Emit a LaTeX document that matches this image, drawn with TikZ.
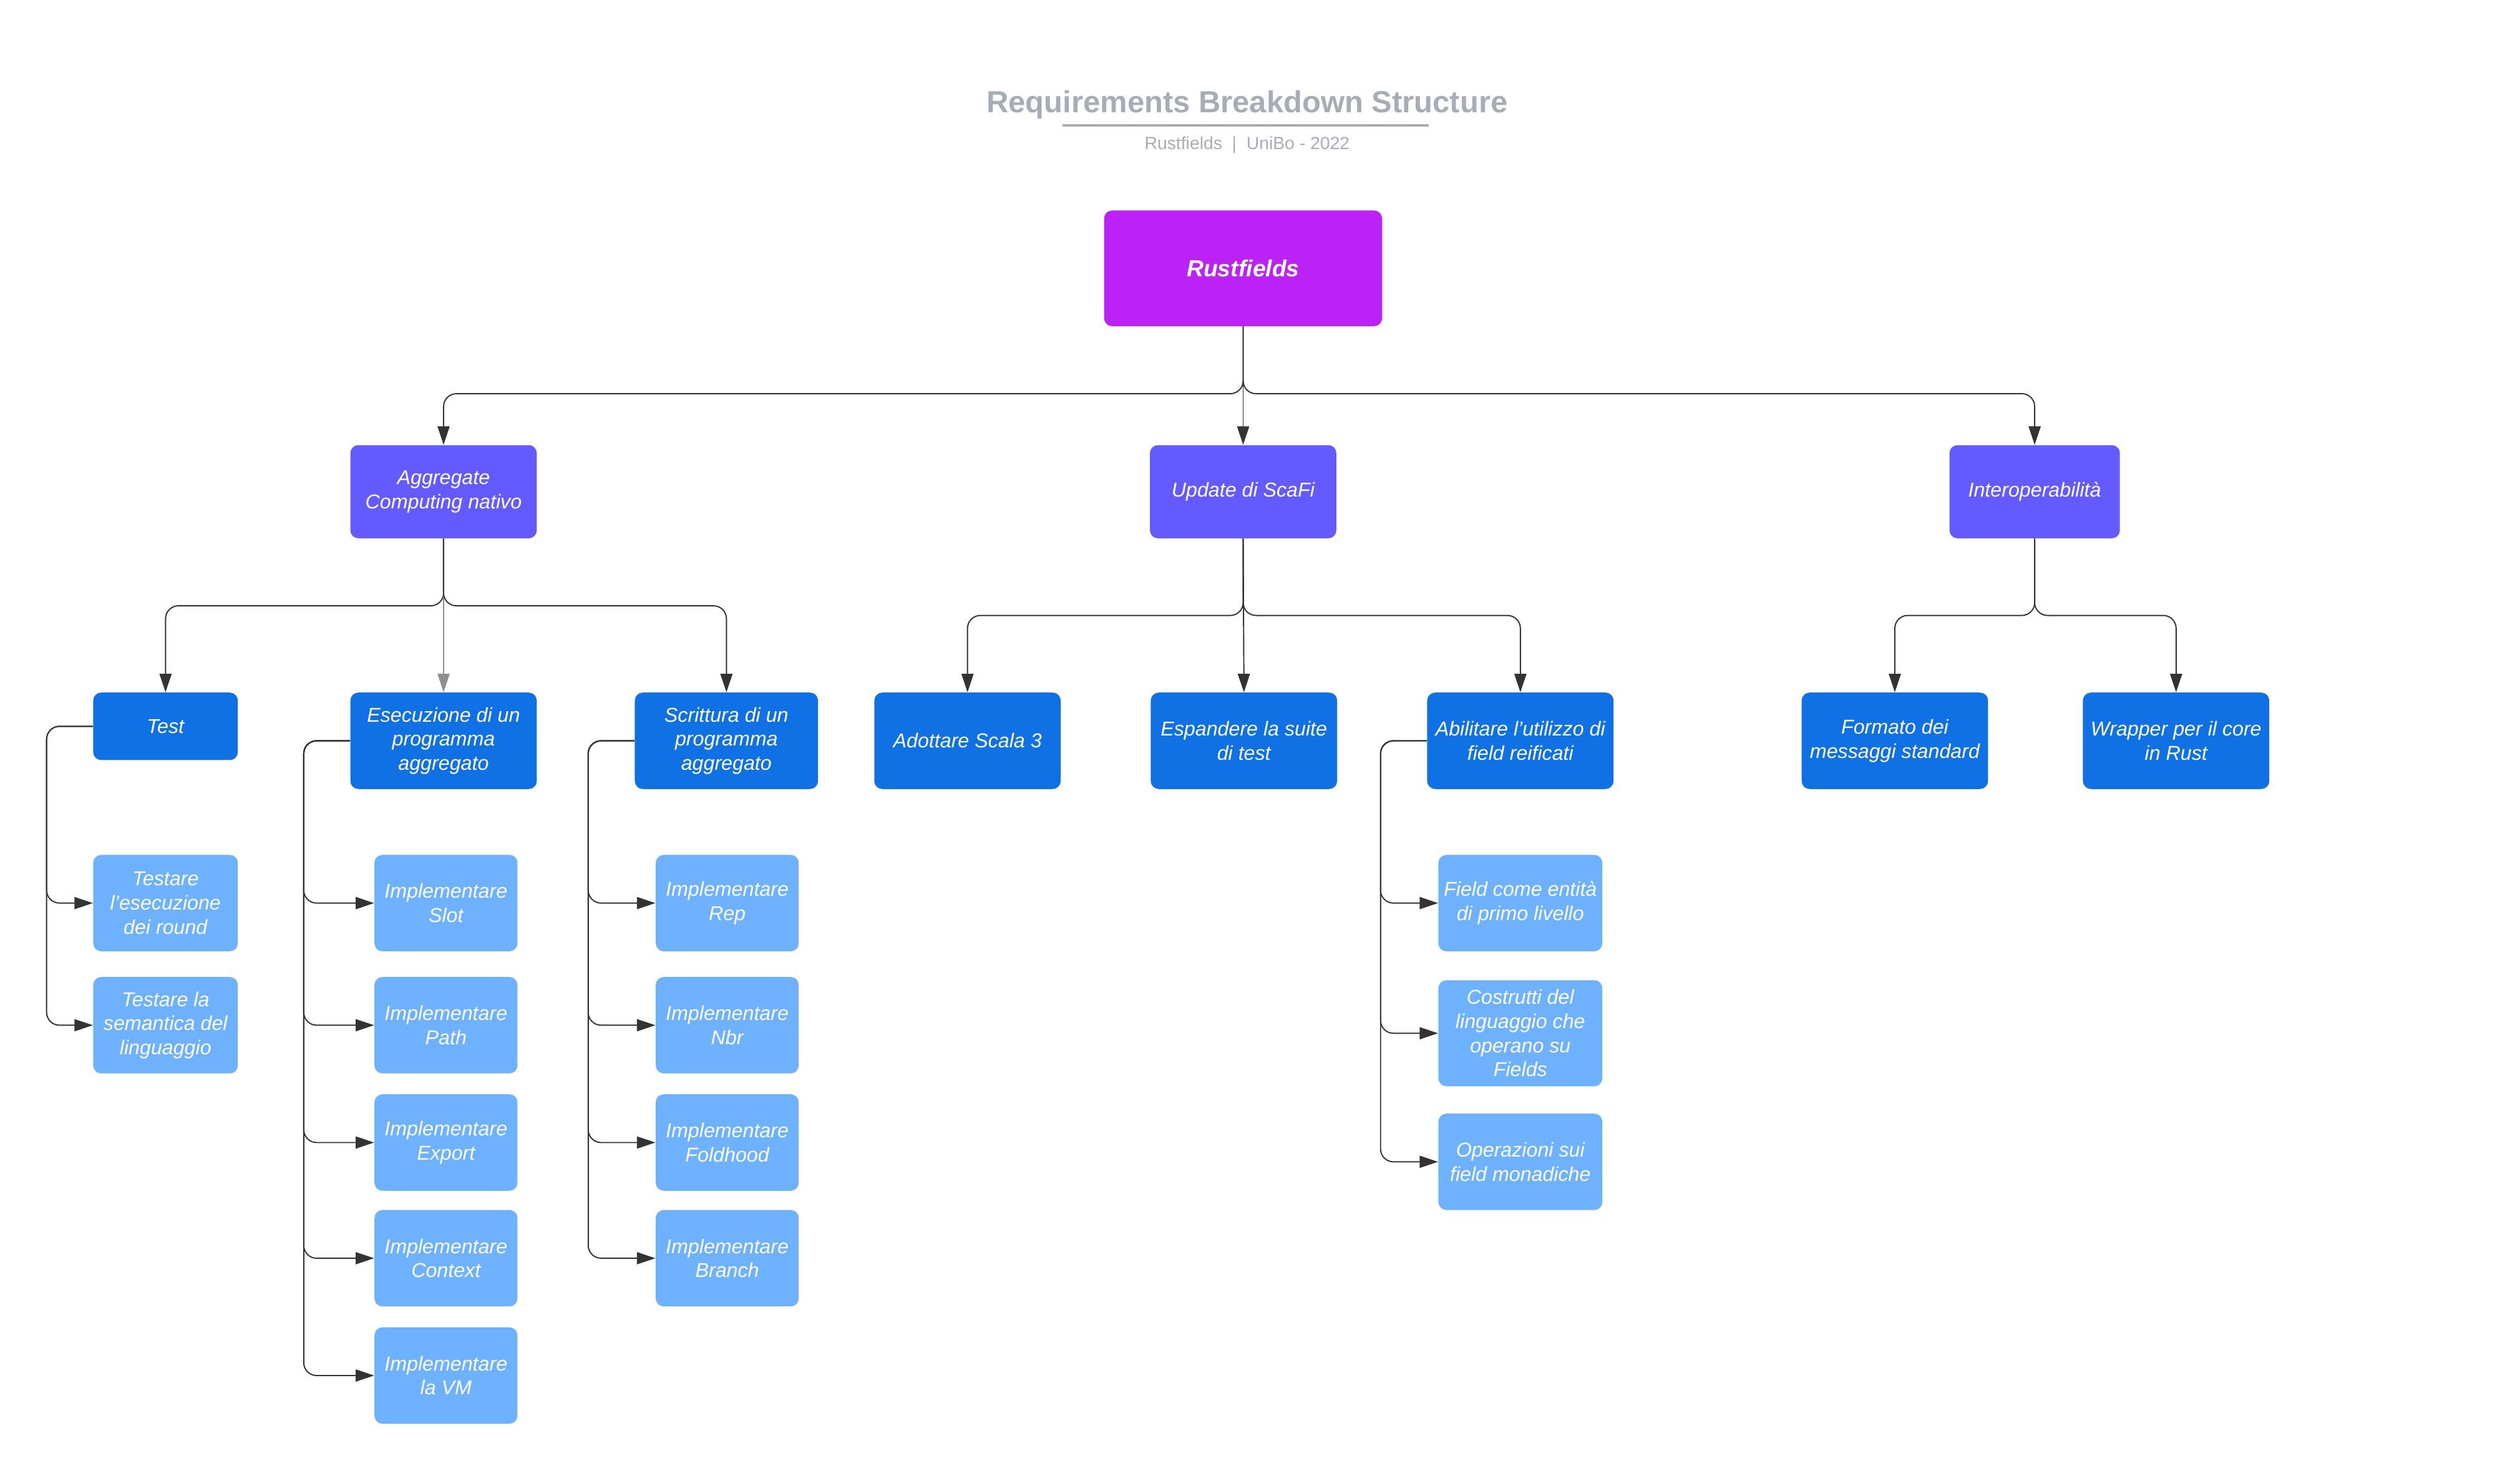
\documentclass[tikz,border=0pt]{standalone}
\usepackage{fontspec}
\setmainfont{Liberation Sans}
\usetikzlibrary{arrows.meta}
\definecolor{rootc}{HTML}{BC22F5}
\definecolor{lonec}{HTML}{635BFF}
\definecolor{ltwoc}{HTML}{1071E5}
\definecolor{lthreec}{HTML}{6DB1FF}
\definecolor{titlec}{HTML}{A7ADB7}
\definecolor{linec}{HTML}{333333}
\begin{document}
\begin{tikzpicture}[x=1pt,y=-1pt,
  box/.style={rectangle, rounded corners=5pt, text=white, align=center, inner sep=0pt,
    font=\fontsize{12.5}{15}\selectfont\itshape},
  rootbox/.style={box, fill=rootc, minimum width=173pt, minimum height=72pt,
    font=\fontsize{14.5}{17}\selectfont\bfseries\itshape},
  lone/.style={box, fill=lonec, minimum width=116pt, minimum height=58pt},
  ltwo/.style={box, fill=ltwoc, minimum width=116pt, minimum height=60pt},
  lthree/.style={box, fill=lthreec, minimum width=89pt, minimum height=60pt},
  lthreew/.style={box, fill=lthreec, minimum width=102pt, minimum height=60pt},
  conn/.style={draw=linec, line width=0.75pt, rounded corners=8pt,
    -{Triangle[length=11.5pt,width=7.5pt]}},
  titletext/.style={text=titlec, inner sep=0pt},
]
\useasboundingbox (0,0) rectangle (1568,912);

% title
\node[titletext, font=\fontsize{19}{22}\selectfont\bfseries] (title) at (776,65) {Requirements Breakdown Structure};
\coordinate (ulA) at (661,78);
\coordinate (ulB) at (889,78);
\draw[titlec, line width=1.3pt] (ulA) -- (ulB);
\node[titletext, font=\fontsize{11}{13}\selectfont] (subtitle) at (776,90) {Rustfields~~|~~UniBo - 2022};

% root
\node[rootbox] (root) at (773.5,167) {Rustfields};

% level 1
\node[lone] (agg) at (276,306) {Aggregate\\Computing nativo};
\node[lone] (upd) at (773.5,306) {Update di ScaFi};
\node[lone, minimum width=106pt] (interop) at (1266,306) {Interoperabilità};

% level 2
\node[ltwo, minimum width=90pt, minimum height=42pt] (test) at (103,452) {Test};
\node[ltwo] (esec) at (276,461) {Esecuzione di un\\programma\\aggregato};
\node[ltwo, minimum width=114pt] (scri) at (452,461) {Scrittura di un\\programma\\aggregato};
\node[ltwo] (scala) at (602,461) {Adottare Scala 3};
\node[ltwo] (suite) at (774,461) {Espandere la suite\\di test};
\node[ltwo] (abil) at (946,461) {Abilitare l'utilizzo di\\field reificati};
\node[ltwo] (formato) at (1179,461) {Formato dei\\messaggi standard};
\node[ltwo] (wrapper) at (1354,461) {Wrapper per il core\\in Rust};

% level 3 - Test
\node[lthree, minimum width=90pt] (tone) at (103,562) {Testare\\l'esecuzione\\dei round};
\node[lthree, minimum width=90pt] (ttwo) at (103,638) {Testare la\\semantica del\\linguaggio};

% level 3 - Esecuzione
\node[lthree] (slot) at (277.5,562) {Implementare\\Slot};
\node[lthree] (path) at (277.5,638) {Implementare\\Path};
\node[lthree] (export) at (277.5,711) {Implementare\\Export};
\node[lthree] (context) at (277.5,783) {Implementare\\Context};
\node[lthree] (vm) at (277.5,856) {Implementare\\la VM};

% level 3 - Scrittura
\node[lthree] (rep) at (452.5,562) {Implementare\\Rep};
\node[lthree] (nbr) at (452.5,638) {Implementare\\Nbr};
\node[lthree] (fold) at (452.5,711) {Implementare\\Foldhood};
\node[lthree] (branch) at (452.5,783) {Implementare\\Branch};

% level 3 - Abilitare
\node[lthreew] (fone) at (946,562) {Field come entità\\di primo livello};
\node[lthreew, minimum height=66pt] (ftwo) at (946,643) {Costrutti del\\linguaggio che\\operano su\\Fields};
\node[lthreew] (fthree) at (946,723) {Operazioni sui\\field monadiche};

% bus coordinates
\coordinate (bzero) at (0,245);
\coordinate (bagg) at (0,377);
\coordinate (bupd) at (0,383);
\coordinate (xtest) at (29,0);
\coordinate (xesec) at (189,0);
\coordinate (xscri) at (366,0);
\coordinate (xabil) at (859,0);

% root -> level 1
\draw[conn] (root.south) -- (root.south |- bzero) -| (agg.north);
\draw[conn] (root.south) -- (upd.north);
\draw[conn] (root.south) -- (root.south |- bzero) -| (interop.north);

% level 1 -> level 2
\draw[conn] (agg.south) -- (agg.south |- bagg) -| (test.north);
\draw[conn, draw=linec!55] (agg.south) -- (esec.north);
\draw[conn] (agg.south) -- (agg.south |- bagg) -| (scri.north);

\draw[conn] (upd.south) -- (upd.south |- bupd) -| (scala.north);
\draw[conn] (upd.south) -- (suite.north);
\draw[conn] (upd.south) -- (upd.south |- bupd) -| (abil.north);

\draw[conn] (interop.south) -- (interop.south |- bupd) -| (formato.north);
\draw[conn] (interop.south) -- (interop.south |- bupd) -| (wrapper.north);

% level 2 -> level 3
\foreach \c in {tone,ttwo}
  \draw[conn] (test.west) -- (test.west -| xtest) |- (\c.west);
\foreach \c in {slot,path,export,context,vm}
  \draw[conn] (esec.west) -- (esec.west -| xesec) |- (\c.west);
\foreach \c in {rep,nbr,fold,branch}
  \draw[conn] (scri.west) -- (scri.west -| xscri) |- (\c.west);
\foreach \c in {fone,ftwo,fthree}
  \draw[conn] (abil.west) -- (abil.west -| xabil) |- (\c.west);
\end{tikzpicture}
\end{document}
